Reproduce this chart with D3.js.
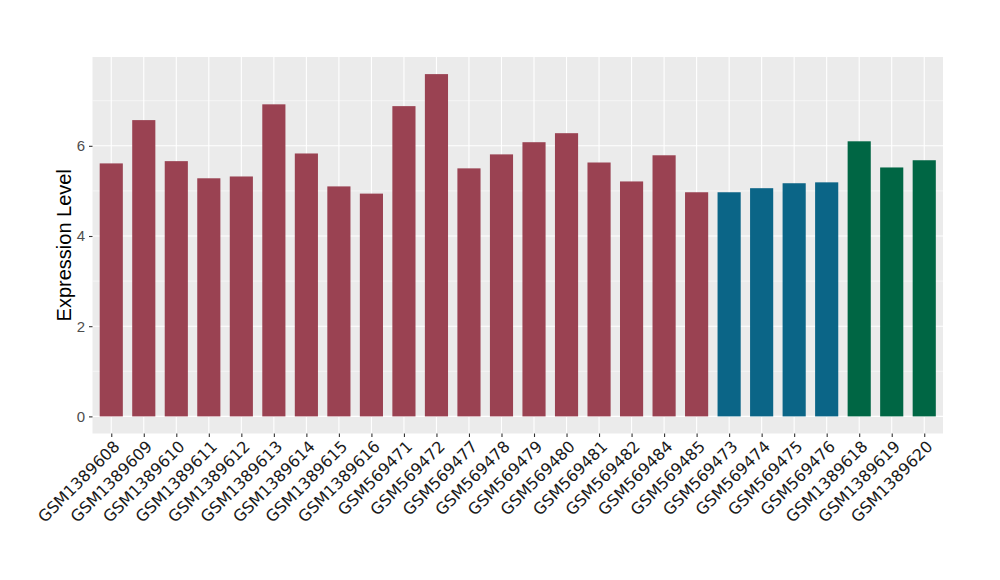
<!DOCTYPE html>
<html><head><meta charset="utf-8">
<script src="https://cdn.jsdelivr.net/npm/d3@7"></script>
<style>body{margin:0;background:#fff}</style>
</head><body><svg id="c" width="1000" height="580"></svg>
<script>
const samples = ["GSM1389608","GSM1389609","GSM1389610","GSM1389611","GSM1389612","GSM1389613","GSM1389614","GSM1389615","GSM1389616","GSM569471","GSM569472","GSM569477","GSM569478","GSM569479","GSM569480","GSM569481","GSM569482","GSM569484","GSM569485","GSM569473","GSM569474","GSM569475","GSM569476","GSM1389618","GSM1389619","GSM1389620"];
const values = [5.61,6.57,5.66,5.28,5.32,6.92,5.83,5.10,4.94,6.88,7.59,5.50,5.81,6.08,6.28,5.63,5.21,5.79,4.97,4.97,5.06,5.17,5.19,6.10,5.52,5.68];
const groups = ["A","A","A","A","A","A","A","A","A","A","A","A","A","A","A","A","A","A","A","B","B","B","B","C","C","C"];
const groupColors = {A:"#9A4252", B:"#0B6587", C:"#006644"};
const yTicks = [0,2,4,6];
const yMinor = [1,3,5,7];

const svg = d3.select("#c");
const L = 92.5, R = 943, T = 57, B = 433.5;
const ymax = d3.max(values);
const y = d3.scaleLinear().domain([-ymax*0.05, ymax*1.05]).range([B, T]);
const n = samples.length;
const unit = (R - L) / (n + 1.2);
const xc = d3.scalePoint().domain(samples).range([L + 0.6*unit, R - 0.6*unit]);
const bw = unit * 0.74;

svg.append("rect").attr("x", L).attr("y", T).attr("width", R-L).attr("height", B-T).attr("fill", "#EBEBEB");
svg.selectAll(".ymin").data(yMinor).enter().append("line")
  .attr("x1", L).attr("x2", R).attr("y1", d=>y(d)).attr("y2", d=>y(d))
  .attr("stroke", "#fff").attr("stroke-width", 0.55);
svg.selectAll(".ymaj").data(yTicks).enter().append("line")
  .attr("x1", L).attr("x2", R).attr("y1", d=>y(d)).attr("y2", d=>y(d))
  .attr("stroke", "#fff").attr("stroke-width", 1.1);
svg.selectAll(".xg").data(samples).enter().append("line")
  .attr("x1", d=>xc(d)).attr("x2", d=>xc(d)).attr("y1", T).attr("y2", B)
  .attr("stroke", "#fff").attr("stroke-width", 1.1);

svg.selectAll(".bar").data(samples).enter().append("rect")
  .attr("x", d=>xc(d)-bw/2).attr("width", bw)
  .attr("y", (d,i)=>y(values[i])).attr("height", (d,i)=>y(0)-y(values[i]))
  .attr("fill", (d,i)=>groupColors[groups[i]]);

const font = "'Liberation Sans', Arial, sans-serif";
const ya = svg.append("g").attr("transform", `translate(${L},0)`)
  .call(d3.axisLeft(y).tickValues(yTicks).tickSize(3.5).tickPadding(4).tickFormat(d3.format("d")));
ya.select(".domain").remove();
ya.selectAll("line").attr("stroke", "#333").attr("stroke-width", 1.1);
ya.selectAll("text").attr("fill", "#4D4D4D").attr("font-family", font).attr("font-size", 15);
ya.attr("font-family", font).attr("font-size", 15);

const xa = svg.append("g").attr("transform", `translate(0,${B})`)
  .call(d3.axisBottom(xc).tickSize(3.5).tickPadding(3));
xa.attr("font-family", "'DejaVu Sans', sans-serif").attr("font-size", 16);
xa.select(".domain").remove();
xa.selectAll("line").attr("stroke", "#333").attr("stroke-width", 1.1);
xa.selectAll("text").attr("fill", "#1A1A1A")
  .attr("text-anchor", "end").attr("y", 0).attr("dy", "0")
  .attr("transform", "translate(9,14) rotate(-45)");

svg.append("text").attr("transform", `translate(${71},${(T+B)/2}) rotate(-90)`)
  .attr("text-anchor", "middle").attr("font-family", font).attr("font-size", 20)
  .attr("fill", "#000").text("Expression Level");
</script></body></html>
